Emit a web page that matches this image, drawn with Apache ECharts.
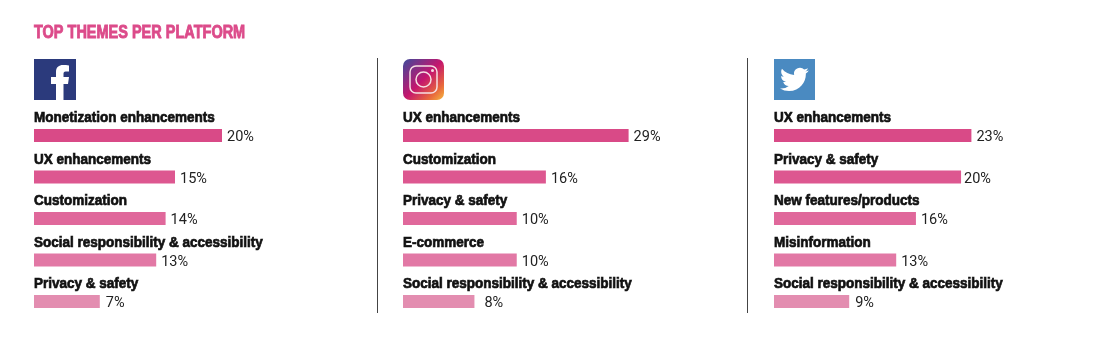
<!DOCTYPE html>
<html>
<head>
<meta charset="utf-8">
<style>
    html, body { margin: 0; padding: 0; background: #fff; }
    #chart { width: 1118px; height: 354px; }
</style>
<script src="https://cdn.jsdelivr.net/npm/echarts@6/dist/echarts.min.js"></script>
</head>
<body>
<div id="chart"></div>
<script>
const chartTitle = 'TOP THEMES PER PLATFORM'

const facebookThemes = ['Monetization enhancements', 'UX enhancements', 'Customization', 'Social responsibility & accessibility', 'Privacy & safety']
const instagramThemes = ['UX enhancements', 'Customization', 'Privacy & safety', 'E-commerce', 'Social responsibility & accessibility']
const twitterThemes = ['UX enhancements', 'Privacy & safety', 'New features/products', 'Misinformation', 'Social responsibility & accessibility']

// printed percentages
const facebookLabels = ['20%', '15%', '14%', '13%', '7%']
const instagramLabels = ['29%', '16%', '10%', '10%', '8%']
const twitterLabels = ['23%', '20%', '16%', '13%', '9%']

// bar lengths as drawn: in the source they don't follow the printed numbers exactly
const facebookBars = [20, 15, 14, 13, 7]
const instagramBars = [24, 15.2, 12.1, 12.1, 7.6]
const twitterBars = [21, 19.9, 15.1, 13, 8]

const barColors = ['#d94a87', '#dd5790', '#e0689b', '#e278a5', '#e38db0']
const textFont = '"Liberation Sans", sans-serif'

const panels = [
    { left: 34, themes: facebookThemes, bars: facebookBars, labels: facebookLabels, gaps: [5, 5, 5, 5, 6] },
    { left: 403, themes: instagramThemes, bars: instagramBars, labels: instagramLabels, gaps: [5, 5, 5, 5, 10] },
    { left: 774, themes: twitterThemes, bars: twitterBars, labels: twitterLabels, gaps: [5, 3, 5, 5, 6] },
]

const birdPath = 'M23.953 4.57a10 10 0 0 1-2.825.775 4.958 4.958 0 0 0 2.163-2.723c-.951.555-2.005.959-3.127 1.184a4.92 4.92 0 0 0-8.384 4.482C7.69 8.095 4.067 6.13 1.64 3.162a4.822 4.822 0 0 0-.666 2.475c0 1.71.87 3.213 2.188 4.096a4.904 4.904 0 0 1-2.228-.616v.06a4.923 4.923 0 0 0 3.946 4.827 4.996 4.996 0 0 1-2.212.085 4.936 4.936 0 0 0 4.604 3.417 9.867 9.867 0 0 1-6.102 2.105c-.39 0-.779-.023-1.17-.067a13.995 13.995 0 0 0 7.557 2.209c9.053 0 13.998-7.496 13.998-13.985 0-.21 0-.42-.015-.63A9.935 9.935 0 0 0 24 4.59z'
const fPath = 'M56 100V84H51V77H56V72C56 67 59 65 63 65C65 65 67 65 69 65.5V71.5H65.5C64 71.5 63.5 72.5 63.5 74V77H69L68 84H63.5V100Z'

echarts.graphic.registerShape('twitterBird', echarts.graphic.extendPath(birdPath, {}))
echarts.graphic.registerShape('facebookF', echarts.graphic.extendPath(fPath, {}))

const decorations = [
    // no condensed font installed, so the title is squeezed with scaleX
    {
        type: 'text',
        x: 34,
        y: 24,
        scaleX: 0.805,
        style: {
            text: chartTitle,
            fill: '#dc4b8a',
            stroke: '#dc4b8a',
            lineWidth: 0.9,
            font: 'bold 18px ' + textFont,
        },
    },
    // dividers
    { type: 'line', shape: { x1: 377.5, y1: 58, x2: 377.5, y2: 313 }, style: { stroke: '#444', lineWidth: 1 } },
    { type: 'line', shape: { x1: 747.5, y1: 58, x2: 747.5, y2: 313 }, style: { stroke: '#444', lineWidth: 1 } },
    // facebook
    { type: 'rect', shape: { x: 34, y: 59, width: 42, height: 41 }, style: { fill: '#2b3a7c' } },
    { type: 'facebookF', style: { fill: '#fff' } },
    // instagram
    {
        type: 'rect',
        shape: { x: 403, y: 59, width: 41, height: 41, r: 7 },
        style: {
            fill: new echarts.graphic.LinearGradient(0, 0, 1, 1, [
                { offset: 0, color: '#3d4a9c' },
                { offset: 0.5, color: '#c4166e' },
                { offset: 0.8, color: '#e8683c' },
                { offset: 1, color: '#f6b93f' },
            ]),
        },
    },
    { type: 'rect', shape: { x: 410, y: 66, width: 27, height: 27, r: 6 }, style: { fill: 'transparent', stroke: '#f6dfe2', lineWidth: 1.5 } },
    { type: 'circle', shape: { cx: 423.5, cy: 79.5, r: 7.5 }, style: { fill: 'transparent', stroke: '#f6dfe2', lineWidth: 1.5 } },
    { type: 'circle', shape: { cx: 432.5, cy: 70.5, r: 1.5 }, style: { fill: '#f6dfe2' } },
    // twitter
    { type: 'rect', shape: { x: 774, y: 59, width: 41, height: 41 }, style: { fill: '#4a8ac1' } },
    { type: 'twitterBird', x: 780, y: 65, scaleX: 1.2, scaleY: 1.2, style: { fill: '#fff' } },
]

const barSeries = panels.map((p, i) => ({
    type: 'bar',
    xAxisIndex: i,
    yAxisIndex: i,
    barWidth: 13,
    data: p.bars.map((v, j) => ({
        value: v,
        itemStyle: { color: barColors[j] },
        label: { formatter: p.labels[j], distance: p.gaps[j] },
    })),
    label: {
        show: true,
        position: 'right',
        offset: [0, 2],
        color: '#222',
        fontFamily: 'Roboto, sans-serif',
        fontSize: 14.5,
    },
}))

// theme names sit above each bar, squeezed like the title
const nameSeries = panels.map((p, i) => ({
    type: 'custom',
    xAxisIndex: i,
    yAxisIndex: i,
    data: p.themes.map((t, j) => [0, j]),
    renderItem(params, api) {
        const pt = api.coord([0, api.value(1)])
        return {
            type: 'text',
            x: pt[0],
            y: pt[1] - 25,
            scaleX: 0.9,
            style: {
                text: p.themes[params.dataIndex],
                fill: '#111',
                stroke: '#111',
                lineWidth: 0.7,
                font: 'bold 15px ' + textFont,
            },
        }
    },
}))

const chart = echarts.init(document.getElementById('chart'), null, { renderer: 'canvas' })

chart.setOption({
    animation: false,
    backgroundColor: '#fff',
    grid: panels.map(p => ({ left: p.left, top: 114.75, width: 282, height: 207.5 })),
    xAxis: panels.map((p, i) => ({
        gridIndex: i,
        type: 'value',
        min: 0,
        max: 30,
        show: false,
    })),
    yAxis: panels.map((p, i) => ({
        gridIndex: i,
        type: 'category',
        inverse: true,
        data: p.themes,
        show: false,
    })),
    series: barSeries.concat(nameSeries),
    graphic: decorations,
})
</script>
</body>
</html>
